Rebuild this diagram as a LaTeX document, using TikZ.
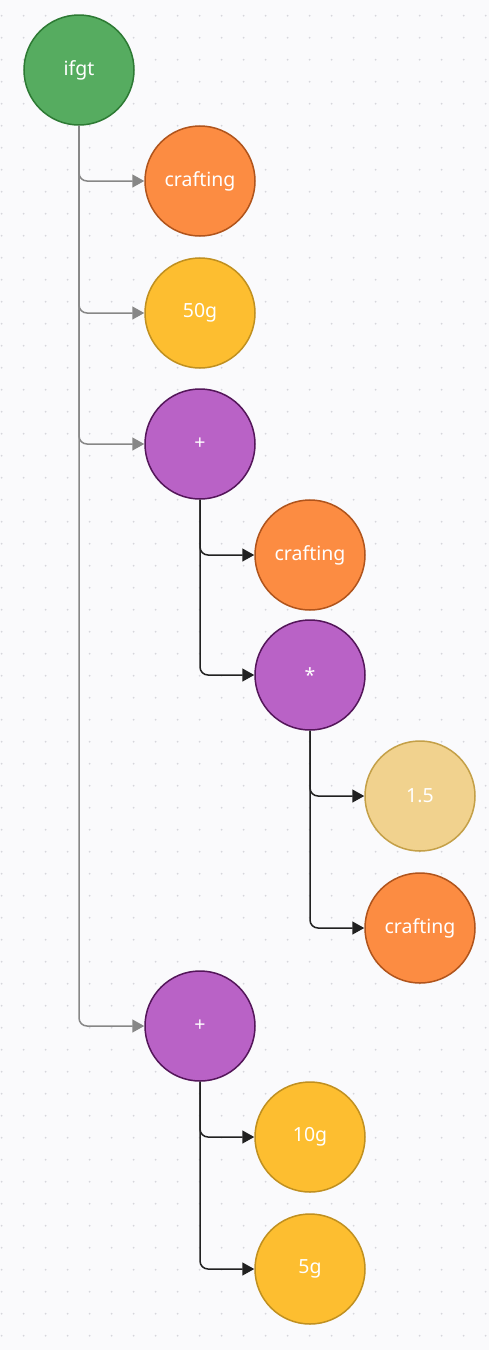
\documentclass[tikz,border=0pt]{standalone}
\usepackage{xcolor}
\usepackage{fontspec}
\setmainfont{Noto Sans}
\usetikzlibrary{positioning,arrows.meta}
\definecolor{bgcol}{RGB}{250,250,252}
\definecolor{dotcol}{RGB}{214,214,220}
\definecolor{opgreen}{RGB}{86,172,96}
\definecolor{opgreenb}{RGB}{45,122,52}
\definecolor{varorange}{RGB}{252,140,66}
\definecolor{varorangeb}{RGB}{176,84,28}
\definecolor{goldyellow}{RGB}{253,190,48}
\definecolor{goldyellowb}{RGB}{192,144,32}
\definecolor{oppurple}{RGB}{185,98,198}
\definecolor{oppurpleb}{RGB}{84,22,90}
\definecolor{numpale}{RGB}{241,210,142}
\definecolor{numpaleb}{RGB}{196,160,72}

\begin{document}
\begin{tikzpicture}[x=1pt, y=-1pt,
  ball/.style={draw, circle, line width=1.5pt, minimum size=110pt, inner sep=0pt, text=white, font=\fontsize{19.5}{22}\selectfont},
  rootop/.style={ball, fill=opgreen, draw=opgreenb},
  mathop/.style={ball, fill=oppurple, draw=oppurpleb},
  varball/.style={ball, fill=varorange, draw=varorangeb},
  goldball/.style={ball, fill=goldyellow, draw=goldyellowb},
  numball/.style={ball, fill=numpale, draw=numpaleb},
  edge/.style={line width=1.5pt, rounded corners=8pt, -{Triangle[length=12pt,width=13pt]}},
  gedge/.style={edge, color=black!47},
  bedge/.style={edge, color=black!87}]
\useasboundingbox (0,0) rectangle (489,1350);
\fill[bgcol] (0,0) rectangle (489,1350);
\begin{scope}
\clip (0,0) rectangle (489,1350);
\foreach \i in {0,...,22}
  \foreach \j in {0,...,61}
    \fill[dotcol] (1.7+22*\i,15.7+22*\j) circle (1pt);
\end{scope}

\node[rootop] (ifgt) at (79,70) {ifgt};

\node[varball] (craft1) at (200,181) {crafting};
\node[goldball] (gold50) at (200,313) {50g};
\node[mathop] (plus1) at (200,444) {+};
\node[mathop] (plus2) at (200,1026) {+};

\node[varball] (craft2) at (310,555) {crafting};
\node[mathop] (times) at (310,675) {*};

\node[numball] (num15) at (420,796) {1.5};
\node[varball] (craft3) at (420,928) {crafting};

\node[goldball] (gold10) at (310,1137) {10g};
\node[goldball] (gold5) at (310,1269) {5g};

\draw[gedge] (ifgt.south) |- (craft1.west);
\draw[gedge] (ifgt.south) |- (gold50.west);
\draw[gedge] (ifgt.south) |- (plus1.west);
\draw[gedge] (ifgt.south) |- (plus2.west);

\draw[bedge] (plus1.south) |- (craft2.west);
\draw[bedge] (plus1.south) |- (times.west);
\draw[bedge] (times.south) |- (num15.west);
\draw[bedge] (times.south) |- (craft3.west);

\draw[bedge] (plus2.south) |- (gold10.west);
\draw[bedge] (plus2.south) |- (gold5.west);
\end{tikzpicture}
\end{document}
